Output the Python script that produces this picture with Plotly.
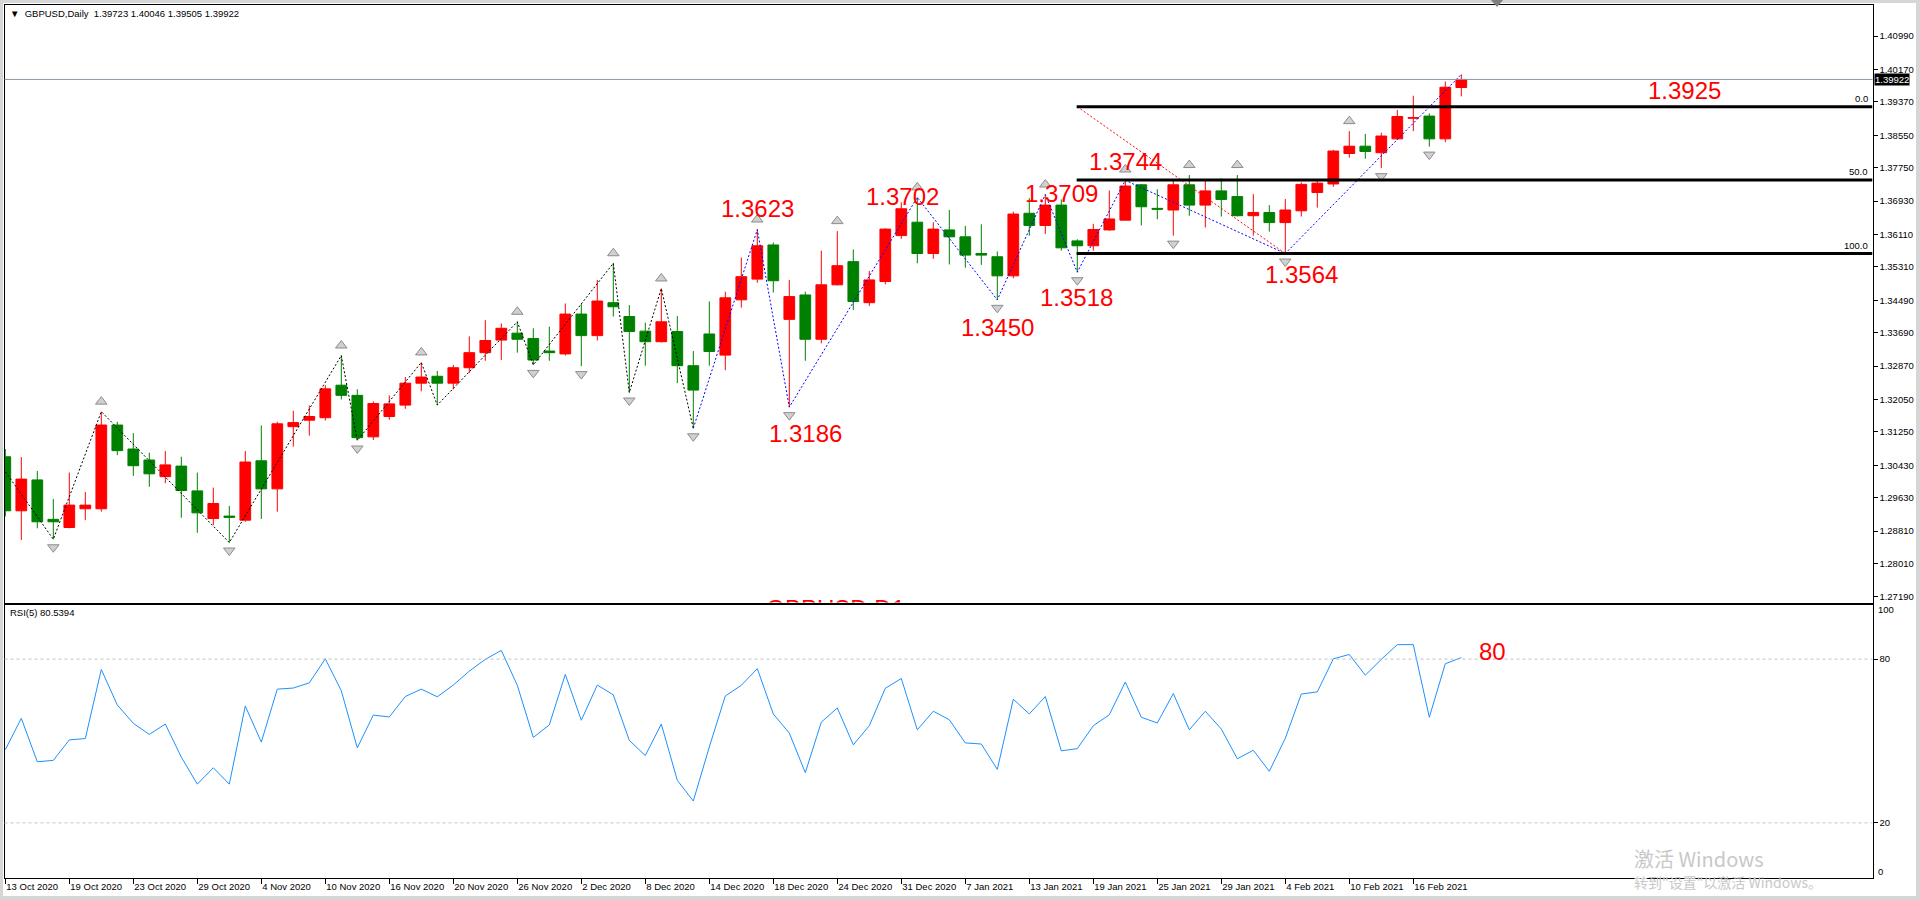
import plotly.graph_objects as go
import pandas as pd

# ------------------------------------------------------------------ data
HOLIDAYS = ['2020-12-25', '2021-01-01']
dates = [d.strftime('%Y-%m-%d') for d in pd.bdate_range('2020-10-13', '2021-02-19')
         if d.strftime('%Y-%m-%d') not in HOLIDAYS]
bar = list(range(len(dates)))

open_ = [1.3064, 1.2931, 1.3007, 1.2910, 1.2890, 1.2936, 1.2936, 1.3142, 1.3083, 1.3056,
         1.3015, 1.3041, 1.2980, 1.2912, 1.2918, 1.2908, 1.3054, 1.2985, 1.3138, 1.3154,
         1.3160, 1.3240, 1.3215, 1.3113, 1.3163, 1.3191, 1.3245, 1.3262, 1.3245, 1.3283,
         1.3320, 1.3351, 1.3368, 1.3355, 1.3324, 1.3317, 1.3415, 1.3362, 1.3443, 1.3409,
         1.3373, 1.3347, 1.3372, 1.3288, 1.3366, 1.3314, 1.3450, 1.3501, 1.3585, 1.3402,
         1.3462, 1.3353, 1.3487, 1.3544, 1.3443, 1.3495, 1.3608, 1.3641, 1.3564, 1.3622,
         1.3605, 1.3564, 1.3556, 1.3509, 1.3663, 1.3633, 1.3683, 1.3595, 1.3583, 1.3622,
         1.3646, 1.3733, 1.3675, 1.3671, 1.3733, 1.3683, 1.3718, 1.3704, 1.3657, 1.3665,
         1.3640, 1.3669, 1.3714, 1.3735, 1.3810, 1.3828, 1.3812, 1.3846, 1.3897, 1.3902,
         1.3846, 1.39723]
high = [1.3083, 1.3063, 1.3029, 1.2960, 1.3025, 1.2977, 1.3175, 1.3150, 1.3122, 1.3074,
        1.3078, 1.3064, 1.3025, 1.2988, 1.2943, 1.3078, 1.3141, 1.3150, 1.3177, 1.3190,
        1.3240, 1.3313, 1.3230, 1.3200, 1.3215, 1.3260, 1.3296, 1.3275, 1.3290, 1.3360,
        1.3400, 1.3392, 1.3396, 1.3380, 1.3384, 1.3441, 1.3441, 1.3499, 1.3540, 1.3437,
        1.3394, 1.3478, 1.3410, 1.3324, 1.3446, 1.3470, 1.3554, 1.3623, 1.3591, 1.3499,
        1.3470, 1.3571, 1.3619, 1.3574, 1.3521, 1.3626, 1.3690, 1.3702, 1.3641, 1.3671,
        1.3632, 1.3636, 1.3569, 1.3667, 1.3700, 1.3709, 1.3697, 1.3599, 1.3637, 1.3719,
        1.3746, 1.3735, 1.3722, 1.3745, 1.3757, 1.3745, 1.3749, 1.3757, 1.3710, 1.3683,
        1.3698, 1.3739, 1.3746, 1.3819, 1.3865, 1.3858, 1.3861, 1.3917, 1.3952, 1.3909,
        1.3987, 1.40046]
low = [1.2917, 1.2859, 1.2888, 1.2861, 1.2888, 1.2908, 1.2929, 1.3068, 1.3017, 1.2990,
       1.2999, 1.2914, 1.2877, 1.2896, 1.2853, 1.2904, 1.2911, 1.2929, 1.3089, 1.3116,
       1.3153, 1.3205, 1.3104, 1.3105, 1.3155, 1.3182, 1.3225, 1.3191, 1.3230, 1.3270,
       1.3300, 1.3302, 1.3320, 1.3290, 1.3300, 1.3313, 1.3287, 1.3350, 1.3409, 1.3222,
       1.3288, 1.3345, 1.3245, 1.3134, 1.3288, 1.3277, 1.3431, 1.3492, 1.3468, 1.3186,
       1.3300, 1.3343, 1.3485, 1.3425, 1.3435, 1.3488, 1.3600, 1.3540, 1.3551, 1.3537,
       1.3529, 1.3536, 1.3450, 1.3503, 1.3608, 1.3612, 1.3571, 1.3518, 1.3571, 1.3620,
       1.3646, 1.3633, 1.3648, 1.3608, 1.3657, 1.3628, 1.3655, 1.3655, 1.3608, 1.3618,
       1.3564, 1.3655, 1.3677, 1.3728, 1.3800, 1.3797, 1.3774, 1.3843, 1.3865, 1.3827,
       1.3838, 1.39505]
close = [1.2931, 1.3009, 1.2904, 1.2904, 1.2945, 1.2945, 1.3142, 1.3079, 1.3042, 1.3022,
         1.3044, 1.2981, 1.2926, 1.2949, 1.2915, 1.3051, 1.2985, 1.3145, 1.3148, 1.3163,
         1.3231, 1.3215, 1.3111, 1.3195, 1.3194, 1.3245, 1.3260, 1.3245, 1.3283, 1.3320,
         1.3350, 1.3380, 1.3353, 1.3302, 1.3320, 1.3415, 1.3362, 1.3447, 1.3433, 1.3372,
         1.3347, 1.3396, 1.3288, 1.3228, 1.3323, 1.3455, 1.3507, 1.3583, 1.3497, 1.3458,
         1.3353, 1.3487, 1.3534, 1.3446, 1.3499, 1.3624, 1.3674, 1.3564, 1.3624, 1.3605,
         1.3560, 1.3560, 1.3509, 1.3661, 1.3633, 1.3683, 1.3578, 1.3583, 1.3623, 1.3649,
         1.3730, 1.3679, 1.3673, 1.3733, 1.3683, 1.3718, 1.3697, 1.3657, 1.3665, 1.3640,
         1.3671, 1.3734, 1.3737, 1.3816, 1.3828, 1.3815, 1.3853, 1.3901, 1.3898, 1.3846,
         1.3973, 1.39922]

rsi = [46.8, 58.3, 42.4, 42.9, 50.4, 50.9, 76.2, 63.2, 56.5, 52.4,
       56.2, 44.1, 34.2, 40.2, 34.2, 62.8, 49.6, 69.0, 69.4, 71.3,
       80.1, 68.4, 47.5, 59.5, 58.8, 66.3, 69.0, 66.2, 70.5, 75.6,
       79.9, 83.2, 70.4, 51.3, 55.9, 74.4, 57.6, 70.5, 66.9, 50.2,
       44.7, 56.2, 35.6, 28.0, 47.8, 66.5, 70.4, 76.5, 59.9, 52.9,
       38.4, 56.9, 62.1, 48.6, 55.6, 69.3, 72.9, 54.1, 60.9, 57.8,
       49.3, 48.9, 39.6, 65.3, 59.9, 66.3, 46.4, 47.2, 55.6, 59.6,
       71.6, 58.7, 56.6, 67.4, 54.1, 60.9, 54.4, 43.5, 46.6, 38.9,
       51.0, 67.2, 68.0, 80.1, 81.7, 74.1, 79.9, 85.3, 85.3, 58.7,
       78.3, 80.5394]

date_tick_bars = [0, 4, 8, 12, 16, 20, 24, 28, 32, 36, 40, 44, 48, 52, 56, 60, 64, 68, 72, 76, 80, 84, 88]
date_tick_labels = ['13 Oct 2020', '19 Oct 2020', '23 Oct 2020', '29 Oct 2020', '4 Nov 2020',
                    '10 Nov 2020', '16 Nov 2020', '20 Nov 2020', '26 Nov 2020', '2 Dec 2020',
                    '8 Dec 2020', '14 Dec 2020', '18 Dec 2020', '24 Dec 2020', '31 Dec 2020',
                    '7 Jan 2021', '13 Jan 2021', '19 Jan 2021', '25 Jan 2021', '29 Jan 2021',
                    '4 Feb 2021', '10 Feb 2021', '16 Feb 2021']
price_ticks = [1.40990, 1.40170, 1.39370, 1.38550, 1.37750, 1.36930, 1.36110, 1.35310, 1.34490,
               1.33690, 1.32870, 1.32050, 1.31250, 1.30430, 1.29630, 1.28810, 1.28010, 1.27190]
rsi_ticks = [20, 80]
rsi_levels = [80, 20]

# zigzag swings (bar index, price); -1 = swing of 12 Oct 2020 just off-chart
zz_black_bar = [-1, 3, 6, 14, 21, 22, 26, 27, 32, 33, 38, 39, 41, 43]
zz_black_val = [1.3083, 1.2861, 1.3175, 1.2853, 1.3313, 1.3104, 1.3296, 1.3191, 1.3396, 1.3290,
                1.3540, 1.3222, 1.3478, 1.3134]
zz_blue_bar = [43, 47, 49, 57, 62, 65, 67, 70, 80, 91]
zz_blue_val = [1.3134, 1.3623, 1.3186, 1.3702, 1.3450, 1.3709, 1.3518, 1.3744, 1.3564, 1.40046]

# fractal arrows
fractal_up = [6, 21, 26, 32, 38, 41, 47, 52, 57, 65, 70, 74, 77, 84]
fractal_down = [3, 14, 22, 33, 36, 39, 43, 49, 62, 67, 73, 80, 86, 89]

# fibonacci retracement (from bar 67 at 1.3925 to bar 80 at 1.3564)
fib_bars = [67, 80]
fib_prices = [1.3925, 1.3564]
fib_levels = [0.0, 50.0, 100.0]

swing_labels = ['1.3623', '1.3186', '1.3702', '1.3450', '1.3709', '1.3744', '1.3518', '1.3564', '1.3925']

last_price = 1.39922
header = 'GBPUSD,Daily  1.39723 1.40046 1.39505 1.39922'
rsi_header = 'RSI(5) 80.5394'

# ------------------------------------------------------------------ layout helpers
W, H = 1920, 900
FONT = 'Liberation Sans'
PX_PER_BAR = 16.0
X_LEFT, X_RIGHT = 4.5, 1872.5
P_TOP, P_BOT = 4.5, 602.5
R_TOP, R_BOT = 604.5, 877.5
X_RANGE = [-(5.3 - X_LEFT) / PX_PER_BAR, -(5.3 - X_LEFT) / PX_PER_BAR + (X_RIGHT - X_LEFT) / PX_PER_BAR]
Y_RANGE = [1.41876 - 0.000246 * P_BOT, 1.41876 - 0.000246 * P_TOP]
PRICE_PER_PX = 0.000246

def px_x(x):
    return x / W

def px_y(y):
    return 1 - y / H

fig = go.Figure()

# candles
fig.add_trace(go.Candlestick(
    x=bar, open=open_, high=high, low=low, close=close,
    increasing=dict(line=dict(color='#ff0000', width=1), fillcolor='#ff0000'),
    decreasing=dict(line=dict(color='#008000', width=1), fillcolor='#008000'),
    whiskerwidth=0, xaxis='x', yaxis='y', hoverinfo='skip'))

# zigzag lines
fig.add_trace(go.Scatter(x=zz_black_bar, y=zz_black_val, mode='lines',
                         line=dict(color='#000000', width=1, dash='2px,2px'),
                         xaxis='x', yaxis='y', hoverinfo='skip'))
fig.add_trace(go.Scatter(x=zz_blue_bar, y=zz_blue_val, mode='lines',
                         line=dict(color='#0000ff', width=1, dash='2px,2px'),
                         xaxis='x', yaxis='y', hoverinfo='skip'))
# fib anchor line
fig.add_trace(go.Scatter(x=fib_bars, y=fib_prices, mode='lines',
                         line=dict(color='#ff0000', width=1, dash='2px,2px'),
                         xaxis='x', yaxis='y', hoverinfo='skip'))

# fractal arrows
fig.add_trace(go.Scatter(x=fractal_up, y=[high[i] + 10 * PRICE_PER_PX for i in fractal_up],
                         mode='markers', marker=dict(symbol='triangle-up', size=10, color='#d0d0d0',
                                                     line=dict(color='#8c8c8c', width=1)),
                         xaxis='x', yaxis='y', hoverinfo='skip'))
fig.add_trace(go.Scatter(x=fractal_down, y=[low[i] - 8 * PRICE_PER_PX for i in fractal_down],
                         mode='markers', marker=dict(symbol='triangle-down', size=10, color='#d0d0d0',
                                                     line=dict(color='#8c8c8c', width=1)),
                         xaxis='x', yaxis='y', hoverinfo='skip'))

# clipped chart-name text peeking above the RSI panel
fig.add_trace(go.Scatter(x=[51.9], y=[1.41876 - PRICE_PER_PX * 599], mode='text',
                         text=['GBPUSD,D1'], textposition='bottom center',
                         textfont=dict(family=FONT, size=24, color='#ff0000'),
                         cliponaxis=True, xaxis='x', yaxis='y', hoverinfo='skip'))

# RSI
fig.add_trace(go.Scatter(x=bar, y=rsi, mode='lines', line=dict(color='#1e90ff', width=1),
                         xaxis='x2', yaxis='y2', hoverinfo='skip'))

shapes = []
# fib level lines
fib_hi, fib_lo = fib_prices
for lv in fib_levels:
    yv = fib_hi - (fib_hi - fib_lo) * lv / 100.0
    shapes.append(dict(type='line', xref='x', yref='y', x0=66.96, x1=X_RANGE[1], y0=yv, y1=yv,
                       line=dict(color='#000000', width=3)))
# current price line
shapes.append(dict(type='line', xref='x domain', yref='y', x0=0, x1=1, y0=last_price, y1=last_price,
                   line=dict(color='#8c97a3', width=1)))
# RSI levels
for lv in rsi_levels:
    shapes.append(dict(type='line', xref='x2 domain', yref='y2', x0=0, x1=1, y0=lv, y1=lv,
                       line=dict(color='#c0c0c0', width=1, dash='3px,3px')))
# window borders
for (x0, y0, x1, y1) in [(0, 0, W, 3), (0, 896, W, H), (0, 0, 3, H), (1916, 0, W, H)]:
    shapes.append(dict(type='rect', xref='paper', yref='paper', x0=px_x(x0), x1=px_x(x1),
                       y0=px_y(y1), y1=px_y(y0), line=dict(width=0), fillcolor='#d6d6d6', layer='below'))
# chart shift marker
shapes.append(dict(type='path', xref='paper', yref='paper',
                   path='M {} {} L {} {} L {} {} Z'.format(px_x(1491), px_y(0), px_x(1503), px_y(0),
                                                          px_x(1497), px_y(7)),
                   fillcolor='#7f7f7f', line=dict(width=0)))

annotations = []
# red swing labels (text, bar position, price position)
label_pos = [(47.0, 1.3674), (50.0, 1.3122), (56.1, 1.3705), (62.0, 1.3383), (66.0, 1.3712),
             (70.0, 1.3790), (66.96, 1.3456), (81.0, 1.3512), (104.98, 1.3965)]
for txt, (bx, py) in zip(swing_labels, label_pos):
    annotations.append(dict(x=bx, y=py, xref='x', yref='y', text=txt, showarrow=False,
                            font=dict(family=FONT, size=24, color='#ff0000'),
                            xanchor='center', yanchor='middle'))
annotations.append(dict(x=92.95, y=82.8, xref='x2', yref='y2', text='80', showarrow=False,
                        font=dict(family=FONT, size=24, color='#ff0000'),
                        xanchor='center', yanchor='middle'))
# fib level captions
for lv in fib_levels:
    yv = fib_hi - (fib_hi - fib_lo) * lv / 100.0
    annotations.append(dict(x=px_x(1870), y=yv, xref='paper', yref='y', text='{:.1f}'.format(lv),
                            showarrow=False, font=dict(family=FONT, size=9.5, color='#000000'),
                            xanchor='right', yanchor='bottom', yshift=1))
# headers
annotations.append(dict(x=px_x(8), y=px_y(13), xref='paper', yref='paper',
                        text='\u25BC  ' + header, showarrow=False,
                        font=dict(family=FONT, size=9.5, color='#000000'),
                        xanchor='left', yanchor='middle'))
annotations.append(dict(x=px_x(8), y=px_y(612), xref='paper', yref='paper', text=rsi_header,
                        showarrow=False, font=dict(family=FONT, size=9.5, color='#000000'),
                        xanchor='left', yanchor='middle'))
# last price tag
annotations.append(dict(x=px_x(1874), y=last_price, xref='paper', yref='y',
                        text='{:.5f}'.format(last_price), showarrow=False,
                        font=dict(family=FONT, size=9.5, color='#ffffff'), bgcolor='#000000',
                        xanchor='left', yanchor='middle', borderpad=0))
# RSI 100 / 0 labels
annotations.append(dict(x=px_x(1876), y=px_y(609), xref='paper', yref='paper', text='100',
                        showarrow=False, font=dict(family=FONT, size=9.5, color='#000000'),
                        xanchor='left', yanchor='middle'))
annotations.append(dict(x=px_x(1876), y=px_y(871), xref='paper', yref='paper', text='0',
                        showarrow=False, font=dict(family=FONT, size=9.5, color='#000000'),
                        xanchor='left', yanchor='middle'))
# windows watermark
annotations.append(dict(x=px_x(1632), y=px_y(858), xref='paper', yref='paper', text='激活 Windows',
                        showarrow=False, font=dict(family='Noto Sans CJK SC', size=20, color='#c8c8c8'),
                        xanchor='left', yanchor='middle'))
annotations.append(dict(x=px_x(1632), y=px_y(882), xref='paper', yref='paper',
                        text='转到"设置"以激活 Windows。', showarrow=False,
                        font=dict(family='Noto Sans CJK SC', size=14, color='#c8c8c8'),
                        xanchor='left', yanchor='middle'))

axis_font = dict(family=FONT, size=9.5, color='#000000')
fig.update_layout(
    width=W, height=H, margin=dict(l=0, r=0, t=0, b=0),
    paper_bgcolor='#ffffff', plot_bgcolor='#ffffff', showlegend=False, hovermode=False,
    boxgap=0.33, boxgroupgap=0,
    xaxis=dict(domain=[px_x(X_LEFT), px_x(X_RIGHT)], range=X_RANGE, anchor='y',
               showticklabels=False, ticks='', showgrid=False, zeroline=False,
               showline=True, mirror=True, linecolor='#000000', linewidth=1,
               rangeslider=dict(visible=False), fixedrange=True),
    xaxis2=dict(domain=[px_x(X_LEFT), px_x(X_RIGHT)], range=X_RANGE, anchor='y2',
                tickvals=date_tick_bars, ticktext=date_tick_labels, ticks='outside', ticklen=5,
                tickcolor='#000000', ticklabelposition='outside right', tickfont=axis_font,
                showgrid=False, zeroline=False, showline=True, mirror=True,
                linecolor='#000000', linewidth=1),
    yaxis=dict(domain=[px_y(P_BOT), px_y(P_TOP)], range=Y_RANGE, anchor='x', side='right',
               tickvals=price_ticks, ticktext=['{:.5f}'.format(v) for v in price_ticks],
               ticks='outside', ticklen=4, tickcolor='#000000', tickfont=axis_font,
               showgrid=False, zeroline=False, showline=True, mirror=True,
               linecolor='#000000', linewidth=1),
    yaxis2=dict(domain=[px_y(R_BOT), px_y(R_TOP)], range=[0, 100], anchor='x2', side='right',
                tickvals=rsi_ticks, ticktext=[str(v) for v in rsi_ticks],
                ticks='outside', ticklen=4, tickcolor='#000000', tickfont=axis_font,
                showgrid=False, zeroline=False, showline=True, mirror=True,
                linecolor='#000000', linewidth=1),
    shapes=shapes, annotations=annotations,
)

fig.write_html('out.html', config={'displayModeBar': False})
